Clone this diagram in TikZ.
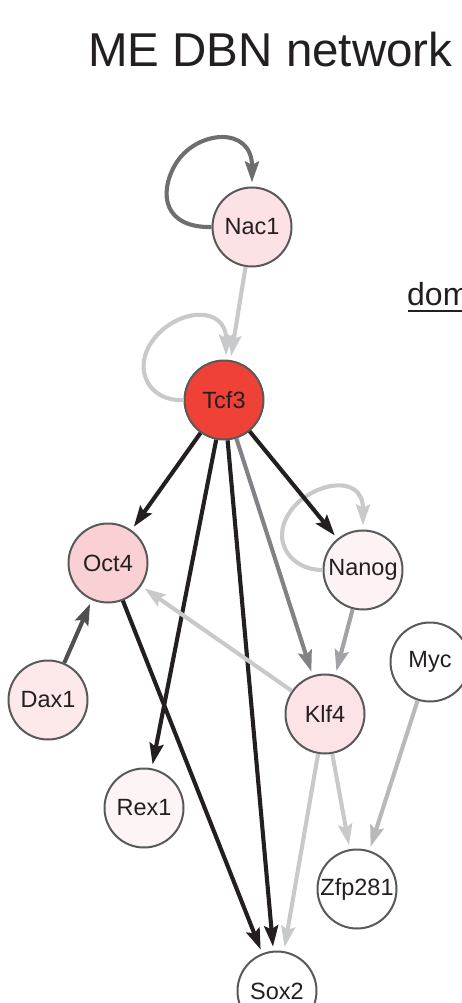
\documentclass[tikz,border=0pt]{standalone}
\usepackage{fontspec}
\setmainfont{Liberation Sans}
\usetikzlibrary{arrows.meta}
\definecolor{ink}{HTML}{231F20}
\definecolor{rim}{HTML}{58595B}
\definecolor{lg}{HTML}{C8C9CB}
\definecolor{mg}{HTML}{808285}
\definecolor{ng}{HTML}{A0A2A5}
\definecolor{dg}{HTML}{6D6E70}
\definecolor{dx}{HTML}{505052}
\definecolor{my}{HTML}{B8B9BB}
\tikzset{
  gene/.style={circle, draw=rim, line width=2pt, minimum size=79pt, inner sep=0pt,
    font=\fontsize{23.5}{26}\selectfont, text=ink},
  edge/.style={line width=4.1pt, -{Stealth[length=21pt,width=14pt,inset=3.5pt]}, shorten >=4pt},
}
\begin{document}
\begin{tikzpicture}[x=1pt,y=-1pt]
\useasboundingbox (0,0) rectangle (462,1003);
\clip (0,0) rectangle (462,1003);
\node[anchor=base west, inner sep=0pt, text=ink, font=\fontsize{47.5}{50}\selectfont] (title) at (88,67) {ME DBN network};
\node[anchor=base west, inner sep=0pt, text=ink, font=\fontsize{32}{36}\selectfont] (dom) at (407,305) {domain};
\draw[ink, line width=2pt] (dom.base west) ++(1,6) -- ++(80,0);

\node[gene, fill={rgb,255:red,253;green,226;blue,229}] (nac1) at (252,227) {Nac1};
\node[gene, fill={rgb,255:red,239;green,65;blue,54}] (tcf3) at (224,400) {Tcf3};
\node[gene, fill={rgb,255:red,249;green,208;blue,211}] (oct4) at (108,563) {Oct4};
\node[gene, fill={rgb,255:red,253;green,232;blue,234}] (dax1) at (48,700) {Dax1};
\node[gene, fill={rgb,255:red,253;green,243;blue,244}] (nanog) at (363,570) {Nanog};
\node[gene, fill={rgb,255:red,252;green,227;blue,229}] (klf4) at (325,714) {Klf4};
\node[gene, fill=white] (myc) at (430,662) {Myc};
\node[gene, fill={rgb,255:red,253;green,245;blue,245}] (rex1) at (144,808) {Rex1};
\node[gene, fill=white] (zfp) at (357,889) {Zfp281};
\node[gene, fill=white] (sox2) at (277,991) {Sox2};

% self loops
\draw[edge, dg] (nac1.180) .. controls (165,228) and (158,195) .. (175,165) .. controls (195,130) and (252,125) .. (nac1.north);
\draw[edge, lg] (tcf3.180) .. controls (150,402) and (131,370) .. (153,340) .. controls (177,308) and (226,305) .. (tcf3.87);
\draw[edge, lg] (nanog.180) .. controls (290,570) and (270,540) .. (290,512) .. controls (307,485) and (363,470) .. (nanog.north);

% edges
\draw[edge, lg] (nac1) -- (tcf3);
\draw[edge, ink] (tcf3) -- (oct4);
\draw[edge, ink] (tcf3) -- (rex1);
\draw[edge, ink] (tcf3) -- (sox2);
\draw[edge, mg] (tcf3) -- (klf4);
\draw[edge, ink] (tcf3) -- (nanog);
\draw[edge, ng] (nanog) -- (klf4);
\draw[edge, lg] (klf4) -- (oct4);
\draw[edge, dx] (dax1) -- (oct4);
\draw[edge, ink] (oct4) -- (sox2);
\draw[edge, lg] (klf4) -- (sox2);
\draw[edge, lg] (klf4) -- (zfp);
\draw[edge, my] (myc) -- (zfp);
\end{tikzpicture}
\end{document}
